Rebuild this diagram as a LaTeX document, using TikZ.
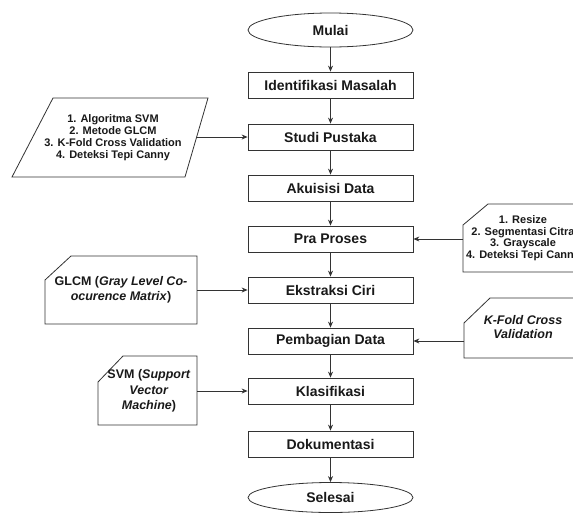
\documentclass[tikz,border=0pt]{standalone}
\usepackage{fontspec}
\setmainfont{Liberation Sans}
\usetikzlibrary{shapes.geometric,arrows.meta}
\begin{document}
\begin{tikzpicture}[x=1pt,y=-1pt,
  lc/.style={draw=black!80,line width=0.8pt},
  proc/.style={lc,rectangle,minimum width=165pt,minimum height=26pt,inner sep=0pt,
    font=\fontsize{14}{16}\selectfont\bfseries,text=black!90},
  term/.style={lc,ellipse,minimum width=165pt,inner sep=0pt,
    font=\fontsize{14}{16}\selectfont\bfseries,text=black!90},
  sidetxt/.style={align=center,inner sep=0pt,text=black!90},
  arr/.style={draw=black!80,line width=0.8pt,-{Stealth[length=6pt,width=5pt]}}]
\clip (0,0) rectangle (573,512);
\fill[white] (0,0) rectangle (573,512);

\node[term,minimum height=34pt] (mulai) at (330.5,30) {Mulai};
\node[proc] (idm) at (330.5,85) {Identifikasi Masalah};
\node[proc] (stp) at (330.5,137) {Studi Pustaka};
\node[proc] (akd) at (330.5,188) {Akuisisi Data};
\node[proc] (prp) at (330.5,239) {Pra Proses};
\node[proc] (ekc) at (330.5,290) {Ekstraksi Ciri};
\node[proc] (pbd) at (330.5,341) {Pembagian Data};
\node[proc] (kls) at (330.5,391) {Klasifikasi};
\node[proc] (dok) at (330.5,444) {Dokumentasi};
\node[term,minimum height=30pt] (sls) at (330.5,497.5) {Selesai};

\draw[arr] (mulai) -- (idm);
\draw[arr] (idm) -- (stp);
\draw[arr] (stp) -- (akd);
\draw[arr] (akd) -- (prp);
\draw[arr] (prp) -- (ekc);
\draw[arr] (ekc) -- (pbd);
\draw[arr] (pbd) -- (kls);
\draw[arr] (kls) -- (dok);
\draw[arr] (dok) -- (sls);

% literature parallelogram
\draw[lc,fill=white] (53,98) -- (208,98) -- (185,177) -- (12,177) -- cycle;
\node[sidetxt,font=\fontsize{11}{12}\selectfont\bfseries] (lit) at (113,137.5)
  {1. Algoritma SVM\\2. Metode GLCM\\3. K-Fold Cross Validation\\4. Deteksi Tepi Canny};
\coordinate (litout) at (196.5,137);
\draw[arr] (litout) -- (stp);

% preprocessing card
\draw[lc,fill=white] (488,204) -- (583,204) -- (583,272) -- (463,272) -- (463,225) -- cycle;
\node[sidetxt,font=\fontsize{11}{11.5}\selectfont\bfseries] (pre) at (523,238)
  {1. Resize\\2. Segmentasi Citra\\3. Grayscale\\4. Deteksi Tepi Canny};
\coordinate (preout) at (463,239);
\draw[arr] (preout) -- (prp);

% GLCM card
\draw[lc,fill=white] (71,256) -- (197,256) -- (197,324) -- (45,324) -- (45,280) -- cycle;
\node[sidetxt,font=\fontsize{12.5}{15}\selectfont\bfseries] (glcm) at (121,290)
  {GLCM (\textit{Gray Level Co-}\\\textit{ocurence Matrix})};
\coordinate (glcmout) at (197,290);
\draw[arr] (glcmout) -- (ekc);

% K-Fold card
\draw[lc,fill=white] (490,298) -- (582,298) -- (582,358) -- (464,358) -- (464,323) -- cycle;
\node[sidetxt,font=\fontsize{12.5}{13.5}\selectfont\bfseries\itshape] (kf) at (523,327)
  {K-Fold Cross\\Validation};
\coordinate (kfout) at (464,341);
\draw[arr] (kfout) -- (pbd);

% SVM card
\draw[lc,fill=white] (123,356) -- (197,356) -- (197,425) -- (98,425) -- (98,382) -- cycle;
\node[sidetxt,font=\fontsize{12.5}{15.5}\selectfont\bfseries] (svm) at (149,391)
  {SVM (\textit{Support}\\\textit{Vector}\\\textit{Machine})};
\coordinate (svmout) at (197,391);
\draw[arr] (svmout) -- (kls);
\end{tikzpicture}
\end{document}
